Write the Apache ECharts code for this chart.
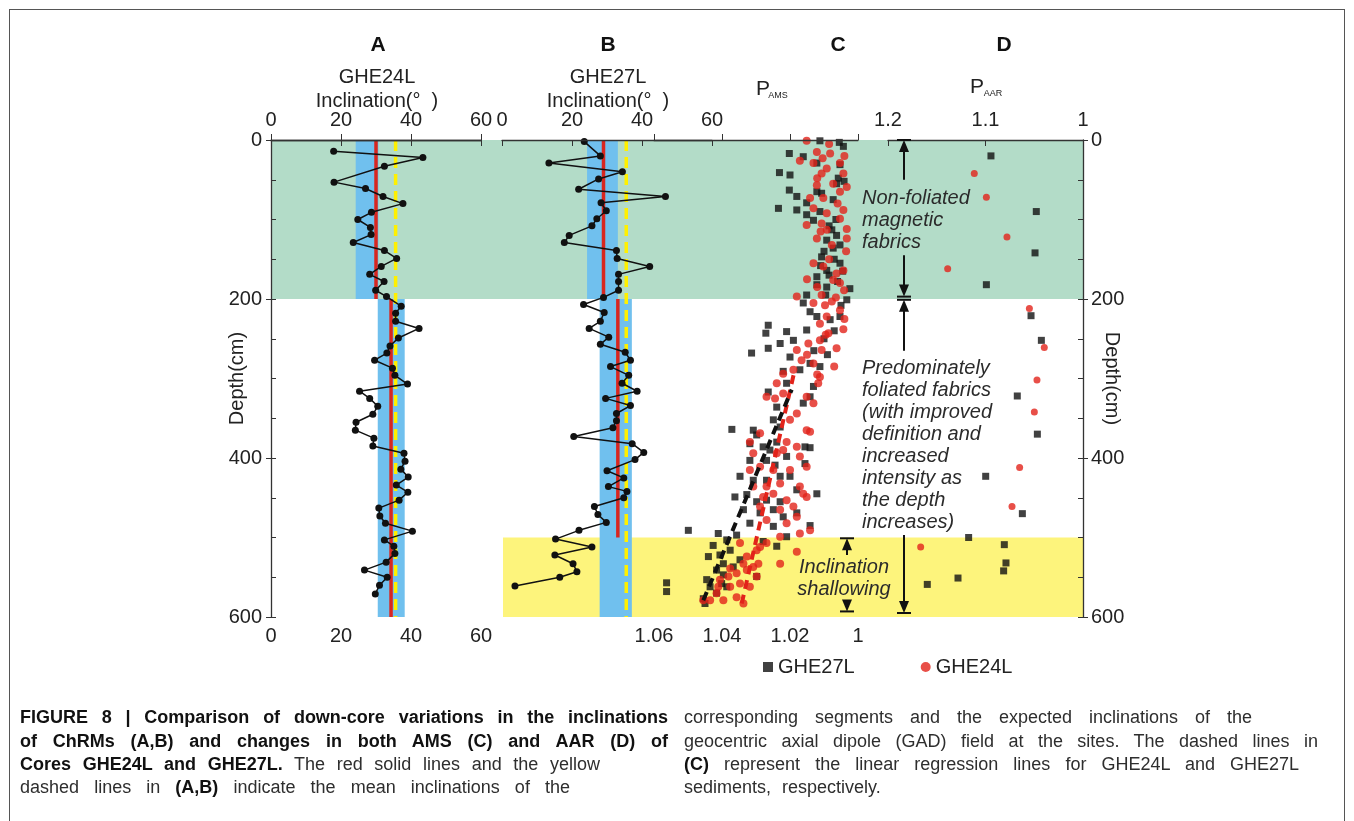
<!DOCTYPE html>
<html><head><meta charset="utf-8">
<script src="https://cdn.jsdelivr.net/npm/echarts@6/dist/echarts.min.js"></script>
<style>
html,body{margin:0;padding:0;background:#fff;}
#wrap{position:relative;width:1354px;height:821px;overflow:hidden;background:#fff;}
#chart{position:absolute;left:0;top:0;width:1354px;height:821px;}
#frame{position:absolute;left:9px;top:9px;width:1336px;height:900px;border:1.5px solid #555;box-sizing:border-box;pointer-events:none;}
.cap{position:absolute;font-family:"Liberation Sans Narrow","Liberation Sans",Arial,sans-serif;font-size:18px;color:#2e2e2e;text-align:justify;text-align-last:justify;line-height:20px;}
.cap b{color:#111;}
</style></head>
<body>
<div id="wrap">
<div id="frame"></div>
<div id="chart"></div>
<div class="cap" style="left:20px;top:707px;width:648px"><b>FIGURE 8 | Comparison of down-core variations in the inclinations</b></div>
<div class="cap" style="left:20px;top:731px;width:648px"><b>of ChRMs (A,B) and changes in both AMS (C) and AAR (D) of</b></div>
<div class="cap" style="left:20px;top:754px;width:580px"><b>Cores GHE24L and GHE27L.</b> The red solid lines and the yellow</div>
<div class="cap" style="left:20px;top:777px;width:550px">dashed lines in <b>(A,B)</b> indicate the mean inclinations of the</div>
<div class="cap" style="left:684px;top:707px;width:568px">corresponding segments and the expected inclinations of the</div>
<div class="cap" style="left:684px;top:731px;width:634px">geocentric axial dipole (GAD) field at the sites. The dashed lines in</div>
<div class="cap" style="left:684px;top:754px;width:615px"><b>(C)</b> represent the linear regression lines for GHE24L and GHE27L</div>
<div class="cap" style="left:684px;top:777px;width:400px;text-align:left;text-align-last:left;word-spacing:6px">sediments, respectively.</div>
</div>
<script>
// ---------- DATA ----------
const DEPTH_TICKS = [0, 200, 400, 600];
const ZONE_GREEN = [0, 200];
const ZONE_YELLOW = [500, 600];

// Panel A: GHE24L inclination [deg, depth cm]
const A_POINTS = [[17.9,14],[43.4,22],[32.4,33],[18.0,53],[27.0,61],[32.0,71],[37.7,80],[28.7,91],[24.8,100],[28.4,110],[28.6,119],[23.5,129],[32.4,139],[35.9,149],[31.5,159],[28.2,169],[32.3,178],[29.9,189],[33.0,197],[37.2,209],[35.6,218],[35.6,228],[42.3,237],[36.4,249],[34.0,259],[33.1,268],[29.6,277],[34.7,287],[35.4,296],[39.0,307],[25.3,316],[28.2,325],[30.5,335],[29.1,345],[24.3,355],[24.1,365],[29.4,375],[29.1,385],[38.0,394],[38.3,404],[37.1,414],[39.2,424],[35.8,434],[39.1,443],[36.6,453],[30.8,463],[31.1,473],[32.7,482],[40.4,492],[32.4,503],[35.1,511],[35.4,520],[32.9,531],[26.7,541],[33.2,550],[31.0,560],[29.8,571]];
const A_MEAN = [30.0, 34.3];
const A_MEAN_SEGMENTS = [[0,200],[200,600]];
const A_BANDS = [[24.2,30.7],[30.5,38.2]];
const A_BAND_SEGMENTS = [[0,200],[200,600]];
const A_GAD = 35.6;

// Panel B: GHE27L inclination [deg, depth cm]
const B_POINTS = [[23.5,2],[28.1,20],[13.4,29],[34.4,40],[27.6,49],[21.9,62],[46.7,71],[28.3,79],[29.8,89],[27.1,99],[25.7,108],[19.2,120],[17.8,129],[32.7,139],[32.9,149],[42.2,159],[33.3,169],[33.3,178],[33.3,189],[29.0,198],[23.3,207],[29.2,217],[28.1,228],[24.9,237],[30.5,248],[28.1,257],[35.2,267],[36.7,277],[31.0,285],[36.2,296],[34.3,306],[38.6,316],[29.6,325],[36.7,334],[32.7,344],[32.7,353],[31.7,362],[20.5,373],[37.2,382],[40.5,393],[38.0,402],[30.0,416],[34.8,425],[30.4,436],[35.7,442],[34.8,450],[26.4,461],[27.4,471],[29.8,481],[22.0,491],[15.3,502],[25.7,512],[15.1,522],[20.3,533],[21.4,543],[16.5,550],[3.7,561]];
const B_MEAN = [29.0, 33.1];
const B_MEAN_SEGMENTS = [[0,200],[200,500]];
const B_BANDS = [[24.3,33.1],[27.9,37.1]];
const B_BAND_SEGMENTS = [[0,200],[200,600]];
const B_GAD = 35.5;

// Panel C: P_AMS [P, depth cm]
const C_GHE27L = [[1.0112,1],[1.0055,3],[1.0043,8],[1.0202,17],[1.0161,21],[1.0121,29],[1.0231,41],[1.0200,44],[1.0053,31],[1.0058,48],[1.0202,63],[1.0180,71],[1.0234,86],[1.0180,88],[1.0151,79],[1.0121,65],[1.0107,67],[1.0073,75],[1.0063,55],[1.0041,52],[1.0151,94],[1.0131,101],[1.0112,90],[1.0077,113],[1.0063,120],[1.0092,126],[1.0073,136],[1.0053,132],[1.0107,147],[1.0092,164],[1.0121,172],[1.0121,182],[1.0053,155],[1.0092,185],[1.0024,187],[1.0033,201],[1.0151,195],[1.0161,205],[1.0141,216],[1.0121,222],[1.0082,226],[1.0053,222],[1.0264,233],[1.0271,243],[1.0210,241],[1.0151,239],[1.0190,252],[1.0229,256],[1.0313,268],[1.0264,262],[1.0200,273],[1.0141,281],[1.0112,285],[1.0171,289],[1.0065,100],[1.0085,108],[1.0100,140],[1.0070,150],[1.0085,170],[1.0060,178],[1.0110,158],[1.0045,165],[1.0095,195],[1.0050,208],[1.0070,240],[1.0100,250],[1.0130,265],[1.0090,270],[1.0220,291],[1.0131,310],[1.0141,323],[1.0161,331],[1.0264,317],[1.0210,306],[1.0239,336],[1.0249,352],[1.0229,361],[1.0371,364],[1.0308,365],[1.0298,371],[1.0318,382],[1.0279,386],[1.0259,390],[1.0239,380],[1.0156,386],[1.0141,387],[1.0210,398],[1.0318,403],[1.0269,403],[1.0244,409],[1.0156,407],[1.0347,423],[1.0308,428],[1.0269,428],[1.0229,423],[1.0200,423],[1.0180,440],[1.0362,449],[1.0327,446],[1.0298,455],[1.0269,453],[1.0229,455],[1.0121,445],[1.0337,465],[1.0288,469],[1.0249,465],[1.0220,474],[1.0180,469],[1.0318,482],[1.0249,486],[1.0141,485],[1.0499,491],[1.0411,495],[1.0386,503],[1.0357,497],[1.0426,510],[1.0406,522],[1.0376,516],[1.0396,533],[1.0347,528],[1.0416,541],[1.0445,553],[1.0396,547],[1.0435,562],[1.0416,570],[1.0455,577],[1.0386,562],[1.0239,511],[1.0298,549],[1.0210,499],[1.0279,505],[1.0563,557],[1.0563,568],[1.0440,524],[1.0367,537],[1.0401,558],[1.0450,583]];
const C_GHE24L = [[1.0151,1],[1.0121,15],[1.0082,17],[1.0104,23],[1.0053,29],[1.0171,26],[1.0131,29],[1.0092,36],[1.0043,42],[1.0107,42],[1.0073,55],[1.0033,59],[1.0053,65],[1.0121,57],[1.0141,73],[1.0102,73],[1.0131,86],[1.0092,92],[1.0053,99],[1.0043,88],[1.0151,107],[1.0107,105],[1.0092,113],[1.0033,112],[1.0033,124],[1.0121,124],[1.0077,132],[1.0131,155],[1.0102,159],[1.0063,168],[1.0043,164],[1.0073,176],[1.0053,180],[1.0041,189],[1.0107,195],[1.0180,197],[1.0131,205],[1.0097,208],[1.0077,203],[1.0053,214],[1.0112,231],[1.0092,222],[1.0043,238],[1.0087,243],[1.0112,252],[1.0146,256],[1.0180,264],[1.0107,264],[1.0166,277],[1.0131,281],[1.0063,262],[1.0190,289],[1.0085,5],[1.0040,20],[1.0120,48],[1.0060,80],[1.0035,140],[1.0110,115],[1.0085,150],[1.0150,175],[1.0065,198],[1.0120,185],[1.0040,225],[1.0095,245],[1.0150,270],[1.0070,285],[1.0120,295],[1.0220,294],[1.0112,298],[1.0117,306],[1.0239,306],[1.0269,323],[1.0244,325],[1.0220,319],[1.0151,323],[1.0131,331],[1.0180,344],[1.0200,352],[1.0151,365],[1.0141,367],[1.0288,369],[1.0318,380],[1.0210,380],[1.0180,386],[1.0220,390],[1.0171,398],[1.0308,394],[1.0239,394],[1.0318,415],[1.0288,411],[1.0249,415],[1.0200,415],[1.0151,411],[1.0308,436],[1.0269,436],[1.0229,432],[1.0171,436],[1.0279,449],[1.0249,445],[1.0210,453],[1.0161,445],[1.0151,449],[1.0288,461],[1.0229,465],[1.0190,461],[1.0269,478],[1.0210,482],[1.0180,474],[1.0171,495],[1.0141,491],[1.0229,499],[1.0269,507],[1.0298,516],[1.0288,512],[1.0347,507],[1.0327,524],[1.0308,537],[1.0327,541],[1.0357,545],[1.0347,558],[1.0376,562],[1.0318,562],[1.0298,549],[1.0406,553],[1.0416,570],[1.0396,579],[1.0337,583],[1.0357,575],[1.0435,579],[1.0455,579],[1.0229,533],[1.0180,518],[1.0293,533],[1.0376,539],[1.0337,533],[1.0381,549],[1.0411,562]];
const C_REG_GHE27L = [[1.0455,579],[1.0195,314]];
const C_REG_GHE24L = [[1.0342,583],[1.0186,289]];

// Panel D: P_AAR [P, depth cm]
const D_GHE27L = [[1.0944,20],[1.0479,90],[1.0492,142],[1.0991,182],[1.0533,221],[1.0427,252],[1.0674,322],[1.0468,370],[1.0998,423],[1.0622,470],[1.1173,500],[1.0807,509],[1.0790,532],[1.0814,542],[1.1282,551],[1.1597,559]];
const D_GHE24L = [[1.1115,42],[1.0991,72],[1.0780,122],[1.1388,162],[1.0550,212],[1.0397,261],[1.0472,302],[1.0499,342],[1.0650,412],[1.0728,461],[1.1665,512]];

// ---------- STYLE ----------
const FONT = '"Liberation Sans", Arial, sans-serif';
const TXT = '#222';
const GREEN = '#b3dcc8', YELLOW = '#fdf47c', BLUE = '#70c0ee', RED = '#d8261f', DOTRED = '#e2231a', GADY = '#fff000', BLACK = '#111';
const GT = 140, GH = 477;

const chart = echarts.init(document.getElementById('chart'), null, {renderer: 'canvas'});

const axLine = {show: true, lineStyle: {color: '#333', width: 1.3}};
const lbl = (extra) => Object.assign({color: TXT, fontSize: 20, fontFamily: FONT}, extra || {});

function hiddenX(gi) { return {gridIndex: gi, type: 'value', min: 0, max: 1, show: false}; }
function hiddenY(gi) { return {gridIndex: gi, type: 'value', min: 0, max: 600, inverse: true, show: false}; }

const xAxis = [
  hiddenX(0), hiddenX(1),
  {gridIndex: 2, type: 'value', position: 'top', min: 0, max: 60, interval: 20, z: 10, axisLine: axLine, axisTick: {inside: true, length: 6, lineStyle: {color: '#333'}}, axisLabel: lbl({margin: 10}), splitLine: {show: false}},
  {gridIndex: 2, type: 'value', position: 'bottom', min: 0, max: 60, interval: 20, z: 10, axisLine: axLine, axisTick: {inside: true, length: 6, lineStyle: {color: '#333'}}, axisLabel: lbl({margin: 9}), splitLine: {show: false}},
  {gridIndex: 3, type: 'value', position: 'top', min: 0, max: 60, interval: 20, z: 10, axisLine: axLine, axisTick: {inside: true, length: 6, lineStyle: {color: '#333'}}, axisLabel: lbl({margin: 10}), splitLine: {show: false}},
  {gridIndex: 4, type: 'value', position: 'bottom', min: 1, max: 1.06, interval: 0.02, inverse: true, z: 10, axisLine: axLine, axisTick: {inside: true, length: 6, lineStyle: {color: '#333'}}, axisLabel: lbl({margin: 9, formatter: v => Math.abs(v - 1) < 1e-9 ? '1' : v.toFixed(2)}), splitLine: {show: false}},
  {gridIndex: 5, type: 'value', position: 'top', min: 1, max: 1.2, interval: 0.1, inverse: true, z: 10, axisLine: axLine, axisTick: {inside: true, length: 6, lineStyle: {color: '#333'}}, axisLabel: lbl({margin: 10, formatter: v => Math.abs(v - 1) < 1e-9 ? '1' : v.toFixed(1)}), splitLine: {show: false}}
];

const yAxis = [
  hiddenY(0), hiddenY(1),
  {gridIndex: 2, type: 'value', position: 'left', min: 0, max: 600, interval: 200, inverse: true, z: 10, axisLine: axLine,
   axisTick: {inside: false, length: 5, lineStyle: {color: '#333'}}, axisLabel: lbl({margin: 9}), splitLine: {show: false},
   name: 'Depth(cm)', nameLocation: 'middle', nameGap: 24, nameRotate: 90, nameMoveOverlap: false, nameTextStyle: {color: TXT, fontSize: 20, fontFamily: FONT}},
  {gridIndex: 2, type: 'value', position: 'left', min: 0, max: 600, interval: 50, inverse: true, z: 10, axisLine: {show: false},
   axisTick: {inside: true, length: 5, lineStyle: {color: '#333'}}, axisLabel: {show: false}, splitLine: {show: false}},
  hiddenY(3), hiddenY(4),
  {gridIndex: 5, type: 'value', position: 'right', min: 0, max: 600, interval: 200, inverse: true, z: 10, axisLine: axLine,
   axisTick: {inside: false, length: 5, lineStyle: {color: '#333'}}, axisLabel: lbl({margin: 8}), splitLine: {show: false},
   name: 'Depth(cm)', nameLocation: 'middle', nameGap: 19, nameRotate: -90, nameMoveOverlap: false, nameTextStyle: {color: TXT, fontSize: 20, fontFamily: FONT}},
  {gridIndex: 5, type: 'value', position: 'right', min: 0, max: 600, interval: 50, inverse: true, z: 10, axisLine: {show: false},
   axisTick: {inside: true, length: 5, lineStyle: {color: '#333'}}, axisLabel: {show: false}, splitLine: {show: false}}
];

const grid = [
  {left: 271, top: GT, width: 812, height: GH},
  {left: 503, top: GT, width: 580, height: GH},
  {left: 271, top: GT, width: 210, height: GH},
  {left: 502, top: GT, width: 210, height: GH},
  {left: 654, top: GT, width: 204, height: GH},
  {left: 888, top: GT, width: 195, height: GH}
];

function areaHolder(xi, yi, color, areas, z) {
  return {type: 'line', xAxisIndex: xi, yAxisIndex: yi, data: [[areas[0][0].xAxis, areas[0][0].yAxis]], symbol: 'none',
    lineStyle: {width: 0, opacity: 0}, silent: true, z: z,
    markArea: {silent: true, z: z, itemStyle: {color: color, opacity: 1}, label: {show: false}, data: areas}};
}
function vSeg(x, seg, xi, yi, style, z) {
  return {type: 'line', xAxisIndex: xi, yAxisIndex: yi, data: [[x, seg[0]], [x, seg[1]]], symbol: 'none', lineStyle: style, silent: true, z: z};
}

const series = [];
series.push(areaHolder(0, 0, GREEN, [[{xAxis: 0, yAxis: ZONE_GREEN[0]}, {xAxis: 1, yAxis: ZONE_GREEN[1]}]], 1));
series.push(areaHolder(1, 1, YELLOW, [[{xAxis: 0, yAxis: ZONE_YELLOW[0]}, {xAxis: 1, yAxis: ZONE_YELLOW[1]}]], 1));
series.push(areaHolder(2, 2, BLUE, A_BANDS.map((b, i) => [{xAxis: b[0], yAxis: A_BAND_SEGMENTS[i][0]}, {xAxis: b[1], yAxis: A_BAND_SEGMENTS[i][1]}]), 2));
series.push(areaHolder(4, 4, BLUE, B_BANDS.map((b, i) => [{xAxis: b[0], yAxis: B_BAND_SEGMENTS[i][0]}, {xAxis: b[1], yAxis: B_BAND_SEGMENTS[i][1]}]), 2));
A_MEAN.forEach((m, i) => series.push(vSeg(m, A_MEAN_SEGMENTS[i], 2, 2, {color: RED, width: 3.5}, 3)));
B_MEAN.forEach((m, i) => series.push(vSeg(m, B_MEAN_SEGMENTS[i], 4, 4, {color: RED, width: 3.5}, 3)));
series.push(vSeg(A_GAD, [0, 600], 2, 2, {color: GADY, width: 3.5, type: [11, 6]}, 4));
series.push(vSeg(B_GAD, [0, 600], 4, 4, {color: GADY, width: 3.5, type: [11, 6]}, 4));
series.push({type: 'line', name: 'A', xAxisIndex: 2, yAxisIndex: 2, data: A_POINTS, symbol: 'circle', symbolSize: 7, showAllSymbol: true,
  itemStyle: {color: BLACK}, lineStyle: {color: BLACK, width: 1.5}, z: 5, silent: true});
series.push({type: 'line', name: 'B', xAxisIndex: 4, yAxisIndex: 4, data: B_POINTS, symbol: 'circle', symbolSize: 7, showAllSymbol: true,
  itemStyle: {color: BLACK}, lineStyle: {color: BLACK, width: 1.5}, z: 5, silent: true});
series.push({type: 'scatter', name: 'GHE27L', xAxisIndex: 5, yAxisIndex: 5, data: C_GHE27L, symbol: 'rect', symbolSize: 7, itemStyle: {color: BLACK}, z: 5, silent: true});
series.push({type: 'scatter', name: 'GHE24L', xAxisIndex: 5, yAxisIndex: 5, data: C_GHE24L, symbol: 'circle', symbolSize: 8, itemStyle: {color: DOTRED}, z: 5, silent: true});
series.push({type: 'line', xAxisIndex: 5, yAxisIndex: 5, data: C_REG_GHE24L, symbol: 'none', lineStyle: {color: DOTRED, width: 4, type: [9, 6]}, z: 6, silent: true});
series.push({type: 'line', xAxisIndex: 5, yAxisIndex: 5, data: C_REG_GHE27L, symbol: 'none', lineStyle: {color: BLACK, width: 4, type: [9, 6]}, z: 6, silent: true});
series.push({type: 'scatter', name: 'GHE27L', xAxisIndex: 6, yAxisIndex: 6, data: D_GHE27L, symbol: 'rect', symbolSize: 7, itemStyle: {color: BLACK}, z: 5, silent: true});
series.push({type: 'scatter', name: 'GHE24L', xAxisIndex: 6, yAxisIndex: 6, data: D_GHE24L, symbol: 'circle', symbolSize: 7, itemStyle: {color: DOTRED}, z: 5, silent: true});

const option = {
  animation: false,
  backgroundColor: 'transparent',
  textStyle: {fontFamily: FONT},
  grid, xAxis, yAxis, series,
  legend: {left: 758, top: 652, itemWidth: 10, itemHeight: 10, itemGap: 66, selectedMode: false,
    textStyle: {color: TXT, fontSize: 20, fontFamily: FONT},
    data: [{name: 'GHE27L', icon: 'rect'}, {name: 'GHE24L', icon: 'circle'}]}
};
chart.setOption(option);

// ---------- annotations ----------
const dy = d => chart.convertToPixel({yAxisIndex: 6}, d);
const G = [];
function t(text, x, y, opts) {
  G.push({type: 'text', x: x, y: y, silent: true, z: 20, style: Object.assign({text: text, fill: TXT, font: '20px ' + FONT, textAlign: 'center', textVerticalAlign: 'middle'}, opts || {})});
}
t('A', 378, 45, {font: 'bold 21px ' + FONT, fill: '#111'});
t('B', 608, 45, {font: 'bold 21px ' + FONT, fill: '#111'});
t('C', 838, 45, {font: 'bold 21px ' + FONT, fill: '#111'});
t('D', 1004, 45, {font: 'bold 21px ' + FONT, fill: '#111'});
t('GHE24L', 377, 77); t('Inclination(°  )', 377, 101);
t('GHE27L', 608, 77); t('Inclination(°  )', 608, 101);
t('P', 763, 89, {font: '21px ' + FONT}); t('AMS', 778, 96, {font: '9px ' + FONT});
t('P', 977, 87, {font: '21px ' + FONT}); t('AAR', 993, 94, {font: '9px ' + FONT});

const IT = {font: 'italic 20px ' + FONT, fill: '#2b2b2b', textAlign: 'left'};
['Non-foliated', 'magnetic', 'fabrics'].forEach((s, i) => t(s, 862, 198 + 22 * i, IT));
['Predominately', 'foliated fabrics', '(with improved', 'definition and', 'increased', 'intensity as', 'the depth', 'increases)'].forEach((s, i) => t(s, 862, 368 + 22 * i, IT));
t('Inclination', 844, 567, Object.assign({}, IT, {textAlign: 'center'}));
t('shallowing', 844, 589, Object.assign({}, IT, {textAlign: 'center'}));

function arrow(x, dFrom, dTo) {
  const y0 = dy(dFrom), y1 = dy(dTo);
  const dir = y1 > y0 ? 1 : -1;
  G.push({type: 'line', silent: true, z: 20, shape: {x1: x, y1: y0, x2: x, y2: y1 - dir * 8}, style: {stroke: '#111', lineWidth: 2}});
  G.push({type: 'polygon', silent: true, z: 20, shape: {points: [[x, y1], [x - 5, y1 - dir * 12], [x + 5, y1 - dir * 12]]}, style: {fill: '#111'}});
  G.push({type: 'line', silent: true, z: 20, shape: {x1: x - 7, y1: y1, x2: x + 7, y2: y1}, style: {stroke: '#111', lineWidth: 2}});
}
arrow(904, 50, 0);
arrow(904, 145, 197);
arrow(904, 265, 201);
arrow(904, 497, 595);
arrow(847, 522, 501);
arrow(847, 579, 593);

chart.setOption({graphic: G});
</script>
</body></html>
